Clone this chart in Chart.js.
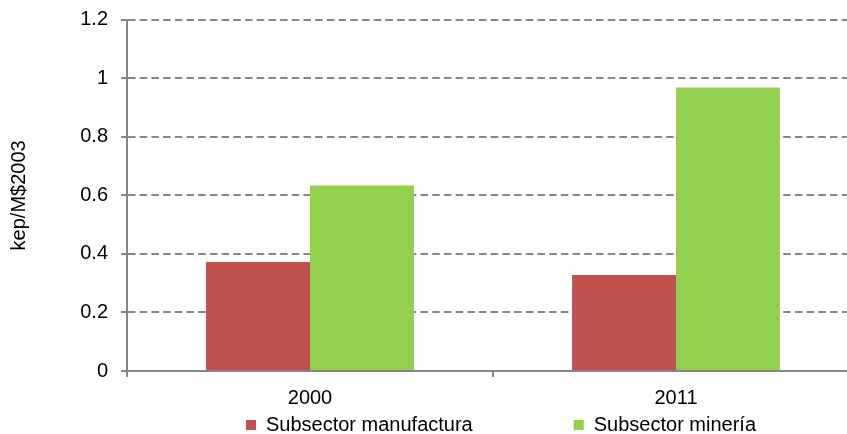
<!DOCTYPE html>
<html>
<head>
<meta charset="utf-8">
<script src="https://cdn.jsdelivr.net/npm/chart.js@4/dist/chart.umd.min.js"></script>
<style>
    html, body { margin: 0; padding: 0; overflow: hidden; background: #fff; }
    #wrap { position: relative; width: 860px; height: 434px; }
</style>
</head>
<body>
<div id="wrap"><canvas id="chart"></canvas></div>
<script>
// Data
const years = ['2000', '2011'];
const manufactura = [0.372, 0.328];
const mineria = [0.634, 0.968];
const seriesNames = ['Subsector manufactura', 'Subsector minería'];
const yTickLabels = ['0', '0.2', '0.4', '0.6', '0.8', '1', '1.2'];
const yTitle = 'kep/M$2003';

const GRAY = '#868686';
const FONT = { family: '"Liberation Sans", Arial, sans-serif', size: 20 };

// Excel style legend: wide gap between items, placed right under the axis labels
const legendPlacement = {
    id: 'legendPlacement',
    beforeInit(chart) {
        const fit = chart.legend.fit;
        chart.legend.fit = function () {
            fit.call(this);
            this.height = 30;
        };
    },
    afterLayout(chart) {
        const lg = chart.legend;
        lg.top = 415 - lg.options.labels.padding;
        lg.left = 135;
        lg.right = 867;
    }
};

new Chart(document.getElementById('chart'), {
    type: 'bar',
    data: {
        labels: years,
        datasets: [
            {
                label: seriesNames[0],
                data: manufactura,
                backgroundColor: '#C0504D',
                categoryPercentage: 0.568,
                barPercentage: 1
            },
            {
                label: seriesNames[1],
                data: mineria,
                backgroundColor: '#92D050',
                categoryPercentage: 0.568,
                barPercentage: 1
            }
        ]
    },
    options: {
        responsive: true,
        maintainAspectRatio: false,
        animation: false,
        layout: { padding: { top: 19.7, right: 1, left: 0, bottom: 0 } },
        plugins: {
            legend: {
                position: 'bottom',
                fullSize: false,
                labels: {
                    boxWidth: 10,
                    boxHeight: 10,
                    padding: 101,
                    color: '#000',
                    font: FONT
                }
            },
            tooltip: { enabled: false }
        },
        scales: {
            x: {
                afterFit: (s) => { s.height = 33; },
                grid: {
                    display: true,
                    drawOnChartArea: false,
                    drawTicks: true,
                    tickLength: 6,
                    color: GRAY,
                    lineWidth: 2
                },
                border: { color: GRAY, width: 2 },
                ticks: { color: '#000', font: FONT, padding: 9, maxRotation: 0 }
            },
            y: {
                min: 0,
                max: 1.2,
                afterFit: (s) => {
                    s.width = 127;
                    s.paddingTop = 0;
                    s.paddingBottom = 0;
                },
                afterBuildTicks: (s) => {
                    s.ticks = yTickLabels.map(t => ({ value: parseFloat(t) }));
                },
                grid: {
                    color: (ctx) => ctx.tick && ctx.tick.value === 0 ? 'rgba(0,0,0,0)' : GRAY,
                    lineWidth: 2,
                    tickLength: 6,
                    tickColor: GRAY,
                    tickBorderDash: []
                },
                border: { color: GRAY, width: 2, dash: [7.5, 4.2] },
                ticks: {
                    color: '#000',
                    font: FONT,
                    padding: 13,
                    callback: (v, i) => yTickLabels[i]
                },
                title: {
                    display: true,
                    text: yTitle,
                    color: '#000',
                    font: FONT,
                    padding: { top: 7, bottom: 0 }
                }
            }
        }
    },
    plugins: [legendPlacement]
});
</script>
</body>
</html>
